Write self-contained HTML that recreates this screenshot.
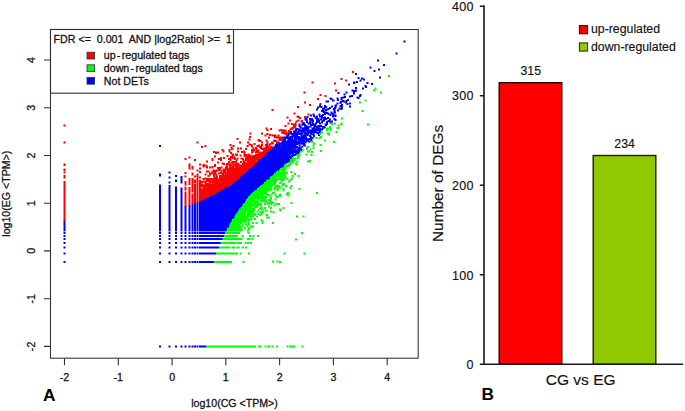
<!DOCTYPE html><html><head><meta charset="utf-8"><title>Figure</title><style>html,body{margin:0;padding:0;background:#fff}svg{display:block}.s text{stroke:#111;stroke-width:.28px}.b text{stroke:#111;stroke-width:.14px}</style></head><body><svg width="685" height="411" viewBox="0 0 685 411" font-family='"Liberation Sans", Arial, sans-serif' fill="#111"><rect width="685" height="411" fill="#fff"/><g class="s"><g><path d="M807 81h4v4h-4zM791 105h4v4h-4zM754 119h4v4h-4zM766 128h4v4h-4zM739 133h4v4h-4zM756 137h4v4h-4zM747 140h4v4h-4zM710 146h4v4h-4zM758 153h4v4h-4zM722 155h4v2h-4zM715 154h4v4h-4zM722 157h8v2h-8zM726 159h4v2h-4zM719 159h4v4h-4zM707 163h4v1h-4zM712 162h4v4h-4zM706 164h5v3h-5zM733 164h4v4h-4zM706 167h4v1h-4zM742 166h4v4h-4zM696 167h4v4h-4zM729 170h4v2h-4zM729 172h5v2h-5zM730 174h4v2h-4zM710 174h4v4h-4zM724 175h4v4h-4zM710 179h4v1h-4zM703 179h4v1h-4zM703 180h11v3h-11zM706 183h5v1h-5zM691 183h4v4h-4zM675 184h4v4h-4zM706 184h4v5h-4zM719 188h4v2h-4zM687 187h4v4h-4zM702 190h4v1h-4zM718 190h5v2h-5zM688 192h4v1h-4zM698 191h8v3h-8zM718 192h4v2h-4zM685 193h7v1h-7zM713 193h4v1h-4zM698 194h4v1h-4zM681 194h11v2h-11zM659 195h4v1h-4zM713 194h6v3h-6zM681 196h8v1h-8zM673 195h4v3h-4zM715 197h4v1h-4zM659 196h6v3h-6zM673 198h5v1h-5zM681 197h4v3h-4zM694 198h4v2h-4zM661 199h8v1h-8zM681 200h7v1h-7zM674 199h4v3h-4zM691 200h7v2h-7zM684 201h6v1h-6zM664 200h5v3h-5zM680 202h10v1h-10zM691 202h4v1h-4zM680 203h15v1h-15zM651 201h7v4h-7zM686 204h8v1h-8zM679 204h5v2h-5zM690 205h4v1h-4zM690 206h7v1h-7zM679 206h4v2h-4zM698 205h4v4h-4zM673 205h4v4h-4zM693 207h4v3h-4zM682 208h4v2h-4zM638 209h4v3h-4zM648 210h4v2h-4zM679 210h7v2h-7zM669 209h5v4h-5zM679 212h6v1h-6zM638 212h7v1h-7zM662 211h4v3h-4zM648 212h6v2h-6zM669 213h4v1h-4zM679 213h7v1h-7zM698 211h4v4h-4zM634 213h11v2h-11zM658 214h8v1h-8zM681 214h5v1h-5zM647 214h7v2h-7zM668 214h5v2h-5zM677 215h4v1h-4zM658 215h4v1h-4zM641 215h4v1h-4zM682 215h4v1h-4zM634 215h4v2h-4zM666 216h7v1h-7zM655 216h7v1h-7zM677 216h9v1h-9zM644 216h7v2h-7zM653 217h9v1h-9zM666 217h6v1h-6zM677 217h8v2h-8zM644 218h15v1h-15zM666 218h5v2h-5zM681 219h4v1h-4zM650 219h9v1h-9zM644 219h5v1h-5zM632 217h4v4h-4zM650 220h7v1h-7zM642 220h7v2h-7zM650 221h4v1h-4zM674 219h4v4h-4zM667 220h4v3h-4zM642 222h12v1h-12zM667 223h5v1h-5zM642 223h8v1h-8zM661 223h4v2h-4zM668 224h4v1h-4zM645 224h12v2h-12zM661 225h11v2h-11zM648 226h11v2h-11zM661 227h8v1h-8zM665 228h4v1h-4zM625 227h4v3h-4zM655 228h8v2h-8zM644 228h8v2h-8zM637 227h4v4h-4zM625 230h5v1h-5zM642 230h6v1h-6zM659 230h4v2h-4zM638 231h10v1h-10zM664 229h9v4h-9zM620 229h4v4h-4zM626 231h4v2h-4zM632 231h4v2h-4zM638 232h8v2h-8zM669 233h4v1h-4zM626 233h10v1h-10zM648 233h4v1h-4zM613 232h4v3h-4zM664 233h4v2h-4zM629 234h7v1h-7zM638 234h14v1h-14zM654 234h4v2h-4zM642 235h10v1h-10zM629 235h6v1h-6zM609 235h8v1h-8zM629 236h10v1h-10zM642 236h16v1h-16zM667 236h4v2h-4zM618 236h8v2h-8zM645 237h17v1h-17zM631 237h8v2h-8zM645 238h9v1h-9zM640 237h4v3h-4zM618 238h9v2h-9zM658 238h4v2h-4zM667 238h6v2h-6zM632 239h7v1h-7zM646 239h8v1h-8zM609 236h6v5h-6zM632 240h18v1h-18zM655 240h7v1h-7zM669 240h4v2h-4zM619 240h9v2h-9zM611 241h5v1h-5zM655 241h6v1h-6zM643 241h7v2h-7zM662 241h4v2h-4zM652 242h9v1h-9zM619 242h4v1h-4zM624 242h4v2h-4zM642 243h5v1h-5zM652 243h14v1h-14zM618 243h5v1h-5zM605 243h1v1h-1zM632 241h8v4h-8zM612 242h4v3h-4zM618 244h9v1h-9zM659 244h7v1h-7zM642 244h4v1h-4zM604 244h5v1h-5zM630 245h16v1h-16zM623 245h4v1h-4zM605 245h5v1h-5zM612 245h10v1h-10zM652 244h4v3h-4zM659 245h4v2h-4zM638 246h8v1h-8zM603 246h7v2h-7zM615 246h7v2h-7zM623 246h6v2h-6zM630 246h4v2h-4zM638 247h4v2h-4zM615 248h19v1h-19zM649 247h7v3h-7zM603 248h9v2h-9zM620 249h12v1h-12zM597 247h4v4h-4zM649 250h5v1h-5zM620 250h13v1h-13zM608 250h5v1h-5zM603 250h4v2h-4zM635 250h9v2h-9zM650 251h4v1h-4zM619 251h14v1h-14zM608 251h9v2h-9zM597 251h5v2h-5zM619 252h4v1h-4zM627 252h24v2h-24zM597 253h7v1h-7zM609 253h14v1h-14zM644 254h7v1h-7zM632 254h7v1h-7zM607 254h16v1h-16zM598 254h6v1h-6zM626 254h5v1h-5zM644 255h8v1h-8zM623 255h8v2h-8zM632 255h10v2h-10zM600 255h19v2h-19zM644 256h5v1h-5zM590 256h7v1h-7zM591 257h10v1h-10zM623 257h26v1h-26zM603 257h15v2h-15zM623 258h23v1h-23zM590 258h11v1h-11zM590 259h56v1h-56zM588 260h6v1h-6zM595 260h51v1h-51zM595 261h47v2h-47zM586 261h8v2h-8zM602 263h9v1h-9zM586 263h15v1h-15zM638 263h4v1h-4zM613 263h21v1h-21zM579 262h5v3h-5zM607 264h5v1h-5zM586 264h7v1h-7zM594 264h7v1h-7zM613 264h29v1h-29zM602 264h4v1h-4zM599 265h43v1h-43zM576 265h8v1h-8zM586 265h12v1h-12zM619 266h6v1h-6zM627 266h4v1h-4zM633 266h8v1h-8zM574 266h33v2h-33zM608 266h10v2h-10zM633 267h6v1h-6zM619 267h10v2h-10zM609 268h9v1h-9zM636 268h3v1h-3zM581 268h26v1h-26zM575 268h5v1h-5zM581 269h24v1h-24zM621 269h8v1h-8zM606 269h12v1h-12zM625 270h5v1h-5zM606 270h16v1h-16zM601 270h4v1h-4zM573 269h6v3h-6zM636 269h4v3h-4zM583 270h13v2h-13zM601 271h16v1h-16zM618 271h5v2h-5zM601 272h13v1h-13zM572 272h5v1h-5zM579 272h21v1h-21zM626 271h4v3h-4zM601 273h12v1h-12zM567 273h33v1h-33zM618 273h6v1h-6zM619 274h8v1h-8zM567 274h47v1h-47zM567 275h20v1h-20zM588 275h26v1h-26zM620 275h7v1h-7zM565 276h21v1h-21zM617 276h10v1h-10zM588 276h27v1h-27zM587 277h40v1h-40zM564 277h22v1h-22zM575 278h11v1h-11zM587 278h38v1h-38zM565 278h8v1h-8zM576 279h48v1h-48zM563 279h9v2h-9zM596 280h22v1h-22zM620 280h5v1h-5zM574 280h21v1h-21zM596 281h14v1h-14zM574 281h20v1h-20zM563 281h10v1h-10zM611 281h9v2h-9zM621 281h4v2h-4zM563 282h47v1h-47zM554 283h5v1h-5zM564 283h51v1h-51zM616 283h4v2h-4zM621 283h2v2h-2zM555 284h4v1h-4zM552 284h1v1h-1zM561 284h52v2h-52zM556 285h4v1h-4zM552 285h2v2h-2zM556 286h57v1h-57zM552 287h58v1h-58zM600 288h10v1h-10zM550 288h49v1h-49zM550 289h46v1h-46zM605 289h7v1h-7zM562 290h31v1h-31zM549 290h12v1h-12zM606 290h6v1h-6zM549 291h44v1h-44zM597 289h4v4h-4zM603 291h4v2h-4zM608 291h4v2h-4zM549 292h47v1h-47zM318 290h4v4h-4zM545 293h51v1h-51zM599 293h8v1h-8zM545 294h62v1h-62zM545 295h58v1h-58zM543 296h43v1h-43zM595 296h8v1h-8zM587 296h7v1h-7zM541 297h51v1h-51zM593 297h12v2h-12zM540 298h51v1h-51zM540 299h65v1h-65zM539 300h66v1h-66zM538 301h66v1h-66zM537 302h64v1h-64zM535 303h66v1h-66zM534 304h67v1h-67zM533 305h66v1h-66zM531 306h57v1h-57zM590 306h9v1h-9zM589 307h10v1h-10zM530 307h58v1h-58zM583 308h16v1h-16zM529 308h53v2h-53zM583 309h11v1h-11zM528 310h66v1h-66zM582 311h10v1h-10zM527 311h53v1h-53zM526 312h62v1h-62zM525 313h61v1h-61zM524 314h62v1h-62zM524 315h61v1h-61zM579 316h6v1h-6zM521 316h57v1h-57zM520 317h64v1h-64zM517 318h65v1h-65zM516 319h65v3h-65zM515 322h66v1h-66zM515 323h65v1h-65zM514 324h65v1h-65zM511 325h65v1h-65zM510 326h64v1h-64zM510 327h63v1h-63zM509 328h61v1h-61zM506 329h64v1h-64zM505 330h64v1h-64zM505 331h63v2h-63zM504 333h64v1h-64zM501 334h66v1h-66zM500 335h65v1h-65zM499 336h64v1h-64zM498 337h63v1h-63zM495 338h66v1h-66zM494 339h66v1h-66zM494 340h65v1h-65zM494 341h64v1h-64zM493 342h62v1h-62zM492 343h62v1h-62zM491 344h61v1h-61zM490 345h62v1h-62zM337 343h4v4h-4zM489 346h62v1h-62zM487 347h62v1h-62zM486 348h62v1h-62zM484 349h64v1h-64zM483 350h64v1h-64zM481 351h65v1h-65zM318 347h4v6h-4zM480 352h65v1h-65zM350 350h4v4h-4zM480 353h62v1h-62zM479 354h62v1h-62zM337 353h4v4h-4zM478 355h62v2h-62zM477 357h63v1h-63zM474 358h66v1h-66zM473 359h66v1h-66zM473 360h61v1h-61zM471 361h62v1h-62zM470 362h63v1h-63zM350 359h4v5h-4zM468 363h64v1h-64zM467 364h64v1h-64zM467 365h62v1h-62zM361 352h4v15h-4zM337 363h4v4h-4zM466 366h63v1h-63zM464 367h64v1h-64zM463 368h64v1h-64zM462 369h64v1h-64zM460 370h64v1h-64zM458 371h65v1h-65zM456 372h65v1h-65zM454 373h66v1h-66zM452 374h66v1h-66zM451 375h67v1h-67zM447 376h70v1h-70zM446 377h69v2h-69zM444 379h70v1h-70zM442 380h71v1h-71zM440 381h70v1h-70zM436 382h74v1h-74zM435 383h74v1h-74zM434 384h73v1h-73zM432 385h74v1h-74zM431 386h74v1h-74zM430 387h74v1h-74zM427 388h75v1h-75zM425 389h77v1h-77zM422 390h79v1h-79zM419 391h81v1h-81zM418 392h81v1h-81zM416 393h82v1h-82zM415 394h82v1h-82zM413 395h84v1h-84zM409 396h87v1h-87zM408 397h87v1h-87zM406 398h88v1h-88zM405 399h88v1h-88zM402 400h91v1h-91zM401 401h92v1h-92zM398 402h94v1h-94zM398 403h93v3h-93zM398 406h92v1h-92zM398 407h90v1h-90zM398 408h89v1h-89zM398 409h88v3h-88zM398 412h87v1h-87zM398 413h86v1h-86zM398 414h85v1h-85zM398 415h84v2h-84zM398 417h83v1h-83zM398 418h81v3h-81zM398 421h80v1h-80zM398 422h78v4h-78zM398 426h77v1h-77zM398 427h75v1h-75zM398 428h74v3h-74zM398 431h73v1h-73zM398 432h72v4h-72zM398 436h71v1h-71zM398 437h70v1h-70zM398 438h69v1h-69zM398 439h67v2h-67zM398 441h66v3h-66zM398 444h65v1h-65zM398 445h64v2h-64zM398 447h63v1h-63zM398 448h62v3h-62zM398 451h61v4h-61zM398 455h60v1h-60zM398 456h57v3h-57zM318 369h4v94h-4zM337 370h4v93h-4zM350 373h4v90h-4zM361 375h4v88h-4zM393 404h4v59h-4zM388 405h4v58h-4zM383 407h4v56h-4zM377 410h4v53h-4zM369 412h4v51h-4zM127 441h4v22h-4zM398 459h56v4h-56zM318 464h4v4h-4zM377 464h4v4h-4zM361 464h4v4h-4zM350 464h4v4h-4zM388 464h4v4h-4zM398 464h53v4h-53zM369 464h4v4h-4zM337 464h4v4h-4zM127 464h4v4h-4zM393 464h4v4h-4zM383 464h4v4h-4zM318 470h4v4h-4zM377 470h4v4h-4zM361 470h4v4h-4zM350 470h4v4h-4zM388 470h4v4h-4zM369 470h4v4h-4zM337 470h4v4h-4zM127 470h4v4h-4zM393 470h4v4h-4zM383 470h4v4h-4zM398 470h51v4h-51zM318 476h4v4h-4zM377 476h4v4h-4zM361 476h4v4h-4zM350 476h4v4h-4zM388 476h4v4h-4zM369 476h4v4h-4zM337 476h4v4h-4zM127 476h4v4h-4zM393 476h4v4h-4zM398 476h48v4h-48zM383 476h4v4h-4zM318 484h4v4h-4zM377 484h4v4h-4zM361 484h4v4h-4zM350 484h4v4h-4zM388 484h4v4h-4zM369 484h4v4h-4zM337 484h4v4h-4zM127 484h4v4h-4zM393 484h4v4h-4zM383 484h4v4h-4zM398 484h44v4h-44zM318 493h4v4h-4zM377 493h4v4h-4zM361 493h4v4h-4zM350 493h4v4h-4zM388 493h4v4h-4zM369 493h4v4h-4zM337 493h4v4h-4zM127 493h4v4h-4zM393 493h4v4h-4zM383 493h4v4h-4zM398 493h41v4h-41zM318 505h4v4h-4zM377 505h4v4h-4zM361 505h4v4h-4zM350 505h4v4h-4zM388 505h4v4h-4zM369 505h4v4h-4zM337 505h4v4h-4zM127 505h4v4h-4zM393 505h4v4h-4zM383 505h4v4h-4zM398 505h35v4h-35zM318 522h4v4h-4zM377 522h4v4h-4zM361 522h4v4h-4zM350 522h4v4h-4zM388 522h4v4h-4zM369 522h4v4h-4zM337 522h4v4h-4zM127 522h4v4h-4zM393 522h4v4h-4zM383 522h4v4h-4zM398 522h31v4h-31zM318 691h4v4h-4zM377 691h4v4h-4zM361 691h4v4h-4zM350 691h4v4h-4zM388 691h4v4h-4zM369 691h4v4h-4zM337 691h4v4h-4zM393 691h4v4h-4zM383 691h4v4h-4zM398 691h15v4h-15z" fill="#0000ff" transform="scale(0.5)"/><path d="M704 142h4v4h-4zM681 156h4v4h-4zM690 159h4v4h-4zM623 163h4v4h-4zM668 165h4v4h-4zM670 179h4v4h-4zM607 183h4v4h-4zM639 188h4v4h-4zM649 190h4v4h-4zM634 196h4v4h-4zM608 203h4v4h-4zM639 206h4v4h-4zM618 208h4v4h-4zM594 212h4v4h-4zM543 218h4v4h-4zM587 225h4v4h-4zM615 227h4v4h-4zM593 231h4v1h-4zM593 232h6v2h-6zM593 234h9v1h-9zM608 232h4v4h-4zM595 235h7v1h-7zM573 233h4v4h-4zM598 236h4v2h-4zM595 239h4v2h-4zM602 240h4v1h-4zM578 239h4v4h-4zM591 241h8v2h-8zM601 241h5v3h-5zM591 243h4v2h-4zM601 244h4v1h-4zM589 245h4v3h-4zM582 246h4v2h-4zM575 245h4v4h-4zM582 248h11v2h-11zM127 249h4v4h-4zM586 250h7v4h-7zM569 250h4v4h-4zM583 254h10v1h-10zM581 255h10v2h-10zM531 255h4v3h-4zM579 257h8v1h-8zM561 258h4v1h-4zM531 258h6v1h-6zM540 256h4v4h-4zM579 258h7v2h-7zM576 260h7v1h-7zM533 259h4v3h-4zM557 259h16v3h-16zM557 262h4v1h-4zM565 262h8v1h-8zM562 263h8v2h-8zM571 263h4v2h-4zM576 261h4v5h-4zM562 265h13v2h-13zM565 267h10v1h-10zM499 265h4v4h-4zM522 265h4v4h-4zM533 266h4v3h-4zM568 268h6v1h-6zM529 269h8v1h-8zM570 269h4v2h-4zM538 268h5v4h-5zM544 269h9v4h-9zM555 269h4v4h-4zM529 270h4v3h-4zM560 273h8v1h-8zM548 273h11v1h-11zM498 272h4v4h-4zM548 274h20v2h-20zM536 273h4v4h-4zM551 276h17v1h-17zM557 277h8v1h-8zM516 278h4v1h-4zM473 276h4v4h-4zM515 279h5v1h-5zM546 279h5v1h-5zM497 277h4v4h-4zM546 280h7v1h-7zM557 278h7v4h-7zM531 279h4v4h-4zM515 280h8v3h-8zM546 281h9v2h-9zM547 283h8v1h-8zM519 283h7v1h-7zM542 283h4v2h-4zM551 284h6v1h-6zM542 285h6v1h-6zM494 283h4v4h-4zM478 283h4v4h-4zM533 283h4v4h-4zM127 283h4v4h-4zM393 283h4v4h-4zM522 284h4v3h-4zM539 286h9v1h-9zM553 285h4v3h-4zM539 287h4v1h-4zM497 287h4v1h-4zM532 287h4v1h-4zM544 287h4v2h-4zM507 286h4v4h-4zM537 288h6v2h-6zM522 288h4v2h-4zM497 288h8v2h-8zM516 289h4v1h-4zM530 288h6v3h-6zM493 290h12v1h-12zM537 290h4v1h-4zM459 288h4v4h-4zM513 290h7v2h-7zM521 290h5v2h-5zM501 291h5v1h-5zM530 291h11v1h-11zM465 290h4v3h-4zM531 292h7v1h-7zM513 292h12v1h-12zM541 292h4v1h-4zM409 290h4v4h-4zM493 291h4v3h-4zM513 293h4v1h-4zM461 293h8v1h-8zM518 293h7v1h-7zM502 292h4v3h-4zM510 294h4v1h-4zM518 294h6v1h-6zM402 292h4v4h-4zM529 293h17v3h-17zM461 294h4v2h-4zM518 295h10v1h-10zM461 296h5v1h-5zM520 296h26v1h-26zM510 295h5v3h-5zM505 295h4v3h-4zM520 297h23v1h-23zM480 295h4v4h-4zM474 295h4v4h-4zM511 298h4v1h-4zM490 296h4v4h-4zM462 297h4v3h-4zM522 298h19v2h-19zM443 298h4v3h-4zM502 298h8v4h-8zM526 300h14v2h-14zM443 301h6v1h-6zM486 301h4v1h-4zM511 299h8v4h-8zM482 302h8v1h-8zM503 302h6v1h-6zM426 302h4v1h-4zM526 302h12v1h-12zM457 298h4v6h-4zM520 303h18v1h-18zM474 301h4v4h-4zM445 302h4v3h-4zM502 303h7v2h-7zM510 303h8v2h-8zM482 303h9v2h-9zM457 304h7v1h-7zM520 304h15v1h-15zM426 303h12v3h-12zM510 305h24v1h-24zM482 305h4v1h-4zM502 305h4v2h-4zM460 305h4v2h-4zM510 306h23v1h-23zM430 306h8v1h-8zM487 305h4v3h-4zM470 307h4v1h-4zM516 307h15v1h-15zM430 307h4v1h-4zM460 307h8v1h-8zM495 307h4v2h-4zM487 308h7v1h-7zM463 308h5v1h-5zM510 308h20v2h-20zM470 308h6v3h-6zM487 309h16v2h-16zM505 310h25v1h-25zM463 309h6v3h-6zM472 311h4v1h-4zM479 309h4v4h-4zM487 311h41v2h-41zM460 312h9v1h-9zM453 310h4v4h-4zM492 313h10v1h-10zM487 313h4v1h-4zM503 313h23v1h-23zM428 311h4v4h-4zM491 314h34v1h-34zM460 313h11v3h-11zM440 314h4v2h-4zM490 315h35v1h-35zM481 315h4v1h-4zM377 313h4v4h-4zM490 316h34v1h-34zM463 316h9v1h-9zM446 314h4v4h-4zM456 316h6v2h-6zM463 317h4v1h-4zM473 315h4v4h-4zM481 316h7v3h-7zM468 317h4v2h-4zM490 317h31v2h-31zM369 316h4v4h-4zM436 316h8v4h-8zM456 318h7v2h-7zM468 319h7v1h-7zM484 319h5v1h-5zM490 319h27v1h-27zM490 320h22v1h-22zM513 320h4v1h-4zM485 320h4v1h-4zM423 316h4v6h-4zM388 318h4v4h-4zM459 320h4v2h-4zM440 320h4v2h-4zM471 320h4v2h-4zM485 321h32v1h-32zM464 322h11v1h-11zM485 322h5v1h-5zM494 322h6v1h-6zM501 322h15v1h-15zM461 323h12v1h-12zM412 321h4v4h-4zM485 323h8v2h-8zM494 323h22v2h-22zM461 324h13v1h-13zM480 322h4v4h-4zM456 322h4v4h-4zM443 325h4v1h-4zM461 325h15v1h-15zM486 325h28v1h-28zM434 323h4v4h-4zM469 326h10v1h-10zM461 326h7v1h-7zM452 326h6v1h-6zM484 326h27v2h-27zM452 327h11v1h-11zM464 327h4v1h-4zM470 327h9v1h-9zM443 326h7v3h-7zM452 328h27v1h-27zM484 328h26v1h-26zM405 328h4v1h-4zM446 329h4v1h-4zM466 329h44v1h-44zM452 329h13v1h-13zM398 327h4v4h-4zM405 329h8v2h-8zM457 330h8v1h-8zM466 330h40v1h-40zM127 327h4v5h-4zM458 331h48v1h-48zM452 330h4v3h-4zM405 331h11v2h-11zM458 332h4v1h-4zM464 332h13v1h-13zM478 332h28v1h-28zM428 328h4v6h-4zM441 333h4v1h-4zM470 333h35v1h-35zM450 333h6v2h-6zM405 333h4v2h-4zM470 334h34v1h-34zM458 333h11v3h-11zM450 335h7v1h-7zM470 335h31v1h-31zM423 332h4v5h-4zM412 333h4v4h-4zM418 333h4v4h-4zM434 334h11v3h-11zM450 336h51v1h-51zM446 337h53v1h-53zM434 337h8v1h-8zM377 327h4v12h-4zM383 332h4v7h-4zM398 335h4v4h-4zM445 338h54v1h-54zM436 338h6v1h-6zM432 339h10v1h-10zM426 339h4v1h-4zM445 339h50v1h-50zM426 340h16v1h-16zM445 340h7v1h-7zM127 337h4v5h-4zM453 340h42v2h-42zM423 341h17v1h-17zM441 341h11v1h-11zM393 339h4v4h-4zM453 342h41v1h-41zM423 342h13v1h-13zM446 342h6v1h-6zM441 342h4v2h-4zM446 343h47v1h-47zM412 341h7v4h-7zM423 343h11v2h-11zM454 344h38v1h-38zM446 344h7v1h-7zM440 344h5v1h-5zM398 342h4v4h-4zM436 345h8v1h-8zM445 345h46v1h-46zM418 345h14v1h-14zM127 343h4v4h-4zM418 346h9v1h-9zM436 346h55v1h-55zM428 346h4v1h-4zM369 344h4v4h-4zM450 347h39v1h-39zM418 347h16v1h-16zM436 347h13v1h-13zM418 348h7v1h-7zM450 348h6v1h-6zM443 348h6v1h-6zM436 348h4v1h-4zM457 348h30v1h-30zM443 349h44v1h-44zM418 349h4v1h-4zM383 345h4v6h-4zM409 347h4v4h-4zM426 348h8v3h-8zM415 350h7v1h-7zM438 350h46v2h-46zM426 351h4v2h-4zM432 351h4v2h-4zM415 351h4v3h-4zM426 353h10v1h-10zM388 351h4v4h-4zM369 351h4v4h-4zM438 352h43v3h-43zM428 354h8v1h-8zM409 355h4v1h-4zM127 350h4v7h-4zM398 353h4v4h-4zM438 355h41v2h-41zM426 355h10v2h-10zM405 356h20v1h-20zM405 357h73v1h-73zM405 358h72v1h-72zM412 359h62v1h-62zM405 359h4v1h-4zM412 360h10v1h-10zM423 360h51v1h-51zM398 360h4v2h-4zM405 361h17v1h-17zM423 361h50v1h-50zM398 362h42v1h-42zM441 362h30v1h-30zM398 363h73v1h-73zM418 364h50v1h-50zM398 364h15v1h-15zM398 365h8v1h-8zM409 365h4v1h-4zM415 365h53v1h-53zM388 359h4v8h-4zM398 366h4v1h-4zM409 366h13v1h-13zM423 366h44v1h-44zM421 367h6v1h-6zM428 367h38v1h-38zM409 367h10v1h-10zM398 367h8v2h-8zM409 368h55v1h-55zM377 356h4v14h-4zM398 369h65v1h-65zM369 362h4v9h-4zM398 370h64v1h-64zM398 371h62v1h-62zM398 372h60v1h-60zM398 373h58v1h-58zM405 374h49v1h-49zM398 374h4v3h-4zM405 375h47v2h-47zM398 377h49v3h-49zM369 373h4v8h-4zM398 380h46v1h-46zM398 381h44v1h-44zM398 382h42v1h-42zM383 356h4v29h-4zM398 383h38v2h-38zM398 385h36v1h-36zM398 386h34v2h-34zM398 388h32v1h-32zM398 389h29v1h-29zM398 390h27v1h-27zM398 391h24v1h-24zM398 392h21v2h-21zM398 394h18v2h-18zM398 396h15v1h-15zM398 397h11v2h-11zM398 399h8v2h-8zM398 401h4v2h-4zM393 347h4v58h-4zM388 368h4v38h-4zM383 387h4v21h-4zM377 374h4v37h-4zM369 383h4v30h-4zM127 362h4v80h-4z" fill="#ff0000" transform="scale(0.5)"/><path d="M776 150h4v4h-4zM749 175h4v4h-4zM746 179h4v4h-4zM760 183h4v4h-4zM729 199h4v4h-4zM718 203h4v4h-4zM723 220h4v4h-4zM682 235h4v4h-4zM668 245h4v4h-4zM662 246h4v4h-4zM681 245h4v6h-4zM734 247h4v4h-4zM675 249h4v4h-4zM658 252h4v3h-4zM651 255h11v1h-11zM673 254h6v4h-6zM651 256h7v3h-7zM659 256h4v6h-4zM652 259h4v3h-4zM671 262h4v4h-4zM641 263h5v3h-5zM638 266h8v1h-8zM653 265h7v4h-7zM638 267h4v3h-4zM656 269h4v2h-4zM640 272h4v2h-4zM637 274h7v2h-7zM630 274h4v4h-4zM637 276h4v2h-4zM648 279h4v4h-4zM622 282h4v3h-4zM666 282h4v4h-4zM622 285h8v1h-8zM626 286h4v3h-4zM639 288h4v4h-4zM625 289h4v4h-4zM614 292h4v2h-4zM612 294h6v2h-6zM625 294h4v4h-4zM612 296h4v4h-4zM619 297h4v4h-4zM604 299h4v2h-4zM600 301h8v2h-8zM640 300h4v4h-4zM614 301h6v4h-6zM600 303h4v2h-4zM622 302h4v4h-4zM611 307h4v4h-4zM593 308h8v4h-8zM621 308h4v4h-4zM594 312h4v1h-4zM594 313h6v2h-6zM584 314h4v1h-4zM584 315h8v2h-8zM593 315h7v2h-7zM581 317h11v2h-11zM593 317h4v2h-4zM618 320h4v1h-4zM580 319h10v3h-10zM580 322h8v1h-8zM614 321h8v3h-8zM593 321h4v4h-4zM614 324h4v1h-4zM578 323h10v3h-10zM590 325h4v2h-4zM578 326h8v1h-8zM590 327h5v2h-5zM569 327h4v3h-4zM575 327h8v3h-8zM591 329h4v2h-4zM567 330h16v1h-16zM567 331h4v2h-4zM572 331h7v2h-7zM567 333h11v1h-11zM565 334h8v1h-8zM563 335h10v1h-10zM560 336h13v3h-13zM567 339h4v1h-4zM558 339h7v1h-7zM558 340h13v1h-13zM554 341h17v1h-17zM554 342h8v1h-8zM563 342h8v2h-8zM551 343h9v1h-9zM572 343h4v1h-4zM581 342h4v4h-4zM551 344h25v2h-25zM548 346h28v1h-28zM548 347h26v1h-26zM547 348h27v1h-27zM588 346h4v4h-4zM565 349h6v1h-6zM547 349h16v1h-16zM562 350h9v1h-9zM545 350h13v2h-13zM560 351h11v1h-11zM567 352h5v1h-5zM542 352h16v1h-16zM595 350h4v4h-4zM583 350h4v4h-4zM540 353h18v1h-18zM560 352h6v3h-6zM567 353h6v2h-6zM540 354h14v1h-14zM558 355h15v1h-15zM539 355h13v1h-13zM539 356h23v1h-23zM566 356h11v1h-11zM582 355h4v3h-4zM539 357h32v2h-32zM579 358h7v1h-7zM573 357h4v3h-4zM534 359h24v1h-24zM579 359h4v2h-4zM559 359h10v2h-10zM561 361h8v1h-8zM576 361h7v1h-7zM532 360h24v3h-24zM561 362h4v2h-4zM531 363h22v1h-22zM576 362h4v3h-4zM528 364h25v1h-25zM558 364h7v1h-7zM528 365h24v2h-24zM558 365h4v3h-4zM546 367h6v1h-6zM526 367h18v1h-18zM564 366h6v3h-6zM526 368h25v1h-25zM554 369h4v1h-4zM523 369h28v1h-28zM563 369h7v1h-7zM563 370h5v1h-5zM523 370h23v1h-23zM570 370h4v1h-4zM549 370h9v1h-9zM520 371h26v1h-26zM549 371h11v2h-11zM563 371h4v2h-4zM520 372h25v1h-25zM581 370h4v4h-4zM570 371h5v3h-5zM549 373h14v1h-14zM518 373h26v1h-26zM571 374h4v1h-4zM553 374h10v1h-10zM517 374h27v2h-27zM553 375h4v1h-4zM559 375h4v2h-4zM514 376h30v1h-30zM579 374h4v4h-4zM553 376h5v2h-5zM514 377h31v2h-31zM554 378h4v1h-4zM597 376h4v4h-4zM532 379h13v1h-13zM513 379h18v1h-18zM553 379h5v1h-5zM548 374h4v7h-4zM510 380h35v1h-35zM565 376h4v7h-4zM553 380h4v3h-4zM509 381h32v2h-32zM507 383h28v1h-28zM546 383h4v1h-4zM574 384h4v2h-4zM505 384h29v2h-29zM544 384h6v3h-6zM504 386h30v1h-30zM632 384h4v4h-4zM572 386h6v2h-6zM541 387h7v1h-7zM501 387h35v1h-35zM501 388h39v1h-39zM572 388h5v1h-5zM572 389h7v1h-7zM501 389h28v1h-28zM558 387h4v4h-4zM541 388h4v3h-4zM531 389h9v2h-9zM573 390h6v1h-6zM499 390h30v1h-30zM549 388h4v4h-4zM554 391h8v1h-8zM499 391h27v1h-27zM536 391h4v1h-4zM575 391h4v2h-4zM551 392h11v2h-11zM497 392h37v2h-37zM539 392h4v3h-4zM551 394h8v1h-8zM496 394h38v2h-38zM539 395h5v1h-5zM551 395h4v1h-4zM495 396h37v1h-37zM494 397h38v1h-38zM540 396h4v3h-4zM514 398h19v1h-19zM535 398h4v1h-4zM493 398h20v1h-20zM514 399h6v1h-6zM522 399h11v1h-11zM549 397h4v4h-4zM492 399h18v2h-18zM513 400h20v1h-20zM535 399h8v3h-8zM492 401h25v1h-25zM520 401h14v2h-14zM490 402h27v1h-27zM537 402h8v2h-8zM490 403h28v1h-28zM520 403h15v1h-15zM522 404h13v1h-13zM490 404h16v2h-16zM537 404h12v2h-12zM507 404h12v2h-12zM531 405h4v1h-4zM528 406h16v1h-16zM508 406h16v1h-16zM545 406h4v1h-4zM487 406h19v1h-19zM581 404h4v4h-4zM487 407h18v1h-18zM509 407h15v1h-15zM534 407h15v1h-15zM551 406h9v3h-9zM528 407h4v3h-4zM534 408h4v2h-4zM485 408h39v2h-39zM547 409h13v1h-13zM541 408h4v3h-4zM485 410h38v1h-38zM485 411h33v1h-33zM519 411h4v1h-4zM547 410h4v3h-4zM483 412h34v1h-34zM536 411h4v3h-4zM521 412h4v2h-4zM483 413h21v1h-21zM507 413h9v2h-9zM536 414h8v1h-8zM481 414h23v1h-23zM481 415h33v1h-33zM519 414h6v3h-6zM481 416h29v1h-29zM565 414h4v4h-4zM528 414h4v4h-4zM540 415h4v3h-4zM516 417h10v1h-10zM478 417h32v1h-32zM558 417h4v2h-4zM478 418h20v1h-20zM500 418h10v1h-10zM516 418h4v3h-4zM522 418h4v3h-4zM558 419h5v2h-5zM478 419h32v2h-32zM525 421h4v1h-4zM476 421h33v1h-33zM530 419h4v4h-4zM559 421h4v2h-4zM475 422h34v1h-34zM540 421h4v4h-4zM513 421h4v4h-4zM519 422h10v3h-10zM475 423h18v2h-18zM494 423h15v2h-15zM545 422h4v4h-4zM495 425h11v1h-11zM475 425h17v1h-17zM519 425h9v1h-9zM494 426h8v2h-8zM521 426h4v2h-4zM515 426h4v2h-4zM509 426h4v2h-4zM503 426h4v2h-4zM472 426h21v2h-21zM471 428h22v2h-22zM515 428h10v2h-10zM494 428h19v2h-19zM494 430h4v1h-4zM471 430h20v1h-20zM507 430h4v1h-4zM499 430h4v1h-4zM531 428h5v4h-5zM519 430h4v2h-4zM469 431h42v1h-42zM592 431h4v4h-4zM512 431h4v4h-4zM605 431h4v4h-4zM469 432h39v3h-39zM469 435h26v1h-26zM532 433h8v4h-8zM501 436h4v2h-4zM467 436h32v2h-32zM508 436h4v4h-4zM464 438h41v2h-41zM521 438h4v3h-4zM497 440h4v1h-4zM464 440h30v1h-30zM521 441h6v1h-6zM463 441h38v1h-38zM463 442h28v2h-28zM494 442h5v3h-5zM461 444h32v1h-32zM495 445h4v2h-4zM479 445h6v2h-6zM461 445h17v2h-17zM489 445h4v2h-4zM523 442h4v6h-4zM511 444h4v4h-4zM504 444h4v4h-4zM544 444h4v4h-4zM459 447h28v1h-28zM489 447h11v1h-11zM496 448h4v3h-4zM483 448h4v3h-4zM459 448h22v3h-22zM490 448h5v3h-5zM500 451h8v4h-8zM458 451h25v4h-25zM485 451h4v4h-4zM493 451h4v4h-4zM488 455h4v4h-4zM496 455h5v4h-5zM454 455h17v4h-17zM472 455h13v4h-13zM494 459h4v4h-4zM476 459h9v4h-9zM453 459h21v4h-21zM602 464h4v4h-4zM495 464h4v4h-4zM450 464h30v4h-30zM514 470h4v4h-4zM448 470h28v4h-28zM498 470h4v4h-4zM483 470h4v4h-4zM505 470h4v4h-4zM503 476h4v4h-4zM494 476h7v4h-7zM445 476h40v4h-40zM590 477h4v4h-4zM441 484h32v4h-32zM494 484h4v4h-4zM500 484h4v4h-4zM474 484h10v4h-10zM489 484h4v4h-4zM463 493h7v4h-7zM473 493h6v4h-6zM484 493h4v4h-4zM490 493h4v4h-4zM438 493h23v4h-23zM479 505h4v4h-4zM471 505h5v4h-5zM432 505h38v4h-38zM607 505h4v4h-4zM567 505h4v4h-4zM496 505h4v4h-4zM553 521h4v4h-4zM544 521h4v4h-4zM485 522h4v4h-4zM558 522h4v4h-4zM428 522h36v4h-36zM543 691h4v4h-4zM412 691h100v4h-100zM603 691h4v4h-4zM552 691h4v4h-4zM529 691h4v4h-4zM535 691h6v4h-6zM573 691h4v4h-4zM578 691h12v4h-12zM516 691h6v4h-6z" fill="#00ff00" transform="scale(0.5)"/></g><rect x="50.5" y="29.5" width="367.7" height="328.7" fill="none" stroke="#303030" stroke-width="1.05"/><path d="M64.5 358.2v7M50.5 346.4h-6.5M118.3 358.2v7M50.5 298.7h-6.5M172.1 358.2v7M50.5 250.9h-6.5M225.8 358.2v7M50.5 203.2h-6.5M279.6 358.2v7M50.5 155.5h-6.5M333.4 358.2v7M50.5 107.8h-6.5M387.2 358.2v7M50.5 60.0h-6.5" stroke="#303030" stroke-width="1.1" fill="none"/><text x="64.5" y="381.1" font-size="10.65" text-anchor="middle">-2</text><text transform="translate(35.4,346.4) rotate(-90)" font-size="10.65" text-anchor="middle">-2</text><text x="118.3" y="381.1" font-size="10.65" text-anchor="middle">-1</text><text transform="translate(35.4,298.7) rotate(-90)" font-size="10.65" text-anchor="middle">-1</text><text x="172.1" y="381.1" font-size="10.65" text-anchor="middle">0</text><text transform="translate(35.4,250.9) rotate(-90)" font-size="10.65" text-anchor="middle">0</text><text x="225.8" y="381.1" font-size="10.65" text-anchor="middle">1</text><text transform="translate(35.4,203.2) rotate(-90)" font-size="10.65" text-anchor="middle">1</text><text x="279.6" y="381.1" font-size="10.65" text-anchor="middle">2</text><text transform="translate(35.4,155.5) rotate(-90)" font-size="10.65" text-anchor="middle">2</text><text x="333.4" y="381.1" font-size="10.65" text-anchor="middle">3</text><text transform="translate(35.4,107.8) rotate(-90)" font-size="10.65" text-anchor="middle">3</text><text x="387.2" y="381.1" font-size="10.65" text-anchor="middle">4</text><text transform="translate(35.4,60.0) rotate(-90)" font-size="10.65" text-anchor="middle">4</text><text x="234.5" y="407.0" font-size="10.6" text-anchor="middle">log10(CG &lt;TPM&gt;)</text><text transform="translate(10.3,193.7) rotate(-90)" font-size="10.6" text-anchor="middle">log10(EG &lt;TPM&gt;)</text><rect x="50.5" y="29.5" width="183" height="63.7" fill="#fff" stroke="#303030" stroke-width="1.1"/><text x="53.6" y="42.8" font-size="10.65" xml:space="preserve">FDR &lt;=  0.001  AND |log2Ratio| &gt;=  1</text><rect x="87" y="52.2" width="7.6" height="6.8" fill="#ff0000" stroke="#333" stroke-width="0.8"/><text x="103.8" y="59.3" font-size="10.65">up<tspan dx="1.2">-</tspan><tspan dx="1.4">regulated tags</tspan></text><rect x="87" y="64.8" width="7.6" height="6.8" fill="#00ff00" stroke="#333" stroke-width="0.8"/><text x="103.8" y="71.9" font-size="10.65">down<tspan dx="1.2">-</tspan><tspan dx="1.4">regulated tags</tspan></text><rect x="87" y="77.4" width="7.6" height="6.8" fill="#0000ff" stroke="#333" stroke-width="0.8"/><text x="103.8" y="84.5" font-size="10.65">Not DETs</text><text x="42.9" y="400.5" font-size="17.3" font-weight="bold" fill="#000" style="stroke-width:0">A</text></g><g class="b"><rect x="499.2" y="82.7" width="62.6" height="281.6" fill="#ff0000" stroke="#2a0000" stroke-width="1.4"/><rect x="593.2" y="155.5" width="62.6" height="208.8" fill="#92c800" stroke="#182000" stroke-width="1.4"/><path d="M484 5.3V364.3M479.8 364.3H683.2M479.8 274.8h4.2M479.8 185.2h4.2M479.8 95.7h4.2M479.8 6.2h4.2" stroke="#1a1a1a" stroke-width="1.6" fill="none"/><text x="473.6" y="369.0" font-size="12.5" letter-spacing="0.25" text-anchor="end">0</text><text x="473.6" y="279.5" font-size="12.5" letter-spacing="0.25" text-anchor="end">100</text><text x="473.6" y="189.9" font-size="12.5" letter-spacing="0.25" text-anchor="end">200</text><text x="473.6" y="100.4" font-size="12.5" letter-spacing="0.25" text-anchor="end">300</text><text x="473.6" y="10.9" font-size="12.5" letter-spacing="0.25" text-anchor="end">400</text><text x="530.8" y="75.2" font-size="12.3" text-anchor="middle">315</text><text x="624.6" y="148.2" font-size="12.3" text-anchor="middle">234</text><text x="580.7" y="385.1" font-size="15.5" text-anchor="middle">CG vs EG</text><text transform="translate(442.6,183.4) rotate(-90)" font-size="15.4" text-anchor="middle">Number of DEGs</text><rect x="579.4" y="25.6" width="8.2" height="8.2" fill="#ff0000" stroke="#300" stroke-width="1"/><rect x="579.4" y="42.9" width="8.2" height="8.2" fill="#92c800" stroke="#1f2a00" stroke-width="1"/><text x="591" y="33.1" font-size="12.3">up-regulated</text><text x="591" y="51.2" font-size="12.3">down-regulated</text><text x="481.6" y="400.4" font-size="17.3" font-weight="bold" fill="#000" style="stroke-width:0">B</text></g></svg></body></html>
